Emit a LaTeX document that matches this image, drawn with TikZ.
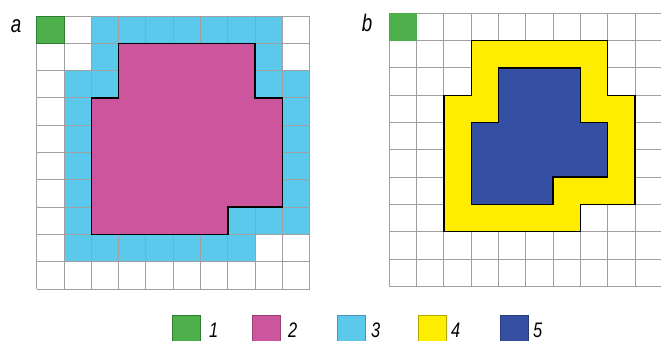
\documentclass[tikz,border=0pt]{standalone}
\usepackage{fontspec}
\newfontfamily\lblfont{Liberation Sans}[FakeStretch=0.78]
\definecolor{cgreen}{HTML}{4DB04A}
\definecolor{cgreenD}{HTML}{2E7D32}
\definecolor{cpink}{HTML}{CC559E}
\definecolor{cblue}{HTML}{5CC8EB}
\definecolor{cyellow}{HTML}{FFED00}
\definecolor{cnavy}{HTML}{3550A2}
\definecolor{cgrid}{HTML}{A0A0A0}
\tikzset{
  gridline/.style={draw=cgrid, line width=0.9pt},
  outline/.style={draw=black, line width=1.4pt, line join=miter},
  lbl/.style={font=\lblfont\itshape\fontsize{24}{24}\selectfont, inner sep=0pt, anchor=base},
  leglbl/.style={font=\lblfont\itshape\fontsize{21}{21}\selectfont, inner sep=0pt, anchor=base west},
  legbox/.style={line width=0.8pt},
}
\begin{document}
\begin{tikzpicture}[x=1pt,y=-1pt]
\useasboundingbox (0,0) rectangle (661,340);
\fill[white] (0,0) rectangle (661,340);
% ---------- panel a ----------
\begin{scope}[shift={(36.7pt,-16pt)}, x=27.3pt, y=-27.3pt]
  \fill[cblue] (2,0) -- (9,0) -- (9,2) -- (10,2) -- (10,8) -- (8,8) -- (8,9) -- (1,9) -- (1,2) -- (2,2) -- cycle;
  \foreach \i in {0,...,10} {
    \draw[gridline] (\i,0) -- (\i,10);
    \draw[gridline] (0,\i) -- (10,\i);
  }
  \path[fill=cpink, outline] (3,1) -- (8,1) -- (8,3) -- (9,3) -- (9,7) -- (7,7) -- (7,8) -- (2,8) -- (2,3) -- (3,3) -- cycle;
  \path[fill=cgreen, draw=cgreenD, line width=0.8pt] (0,0) rectangle (1,1);
\end{scope}
\node[lbl] (la) at (16,32) {a};
% ---------- panel b ----------
\begin{scope}[shift={(389.3pt,-13.3pt)}, x=27.3pt, y=-27.3pt]
  \foreach \i in {0,...,10} {
    \draw[gridline] (\i,0) -- (\i,10);
    \draw[gridline] (0,\i) -- (10,\i);
  }
  \path[fill=cyellow, outline] (3,1) -- (8,1) -- (8,3) -- (9,3) -- (9,7) -- (7,7) -- (7,8) -- (2,8) -- (2,3) -- (3,3) -- cycle;
  \path[fill=cnavy, outline] (4,2) -- (7,2) -- (7,4) -- (8,4) -- (8,6) -- (6,6) -- (6,7) -- (3,7) -- (3,4) -- (4,4) -- cycle;
  \fill[cgreen] (0,0) rectangle (1,1);
\end{scope}
\node[lbl] (lb) at (367,31.5) {b};
% ---------- legend ----------
\path[legbox, fill=cgreen, draw=cgreenD] (172.7,315.5) rectangle (200.7,342);
\path[legbox, fill=cpink, draw=cpink!75!black] (252.7,315.5) rectangle (280.7,342);
\path[legbox, fill=cblue, draw=cblue!75!black] (337.5,315.5) rectangle (365.5,342);
\path[legbox, fill=cyellow, draw=cyellow!70!black] (418,315.5) rectangle (446,342);
\path[legbox, fill=cnavy, draw=cnavy!75!black] (500.5,315.5) rectangle (528.5,342);
\node[leglbl] (l1) at (209,337) {1};
\node[leglbl] (l2) at (288,337) {2};
\node[leglbl] (l3) at (371,337) {3};
\node[leglbl] (l4) at (451,337) {4};
\node[leglbl] (l5) at (533,337) {5};
\end{tikzpicture}
\end{document}
